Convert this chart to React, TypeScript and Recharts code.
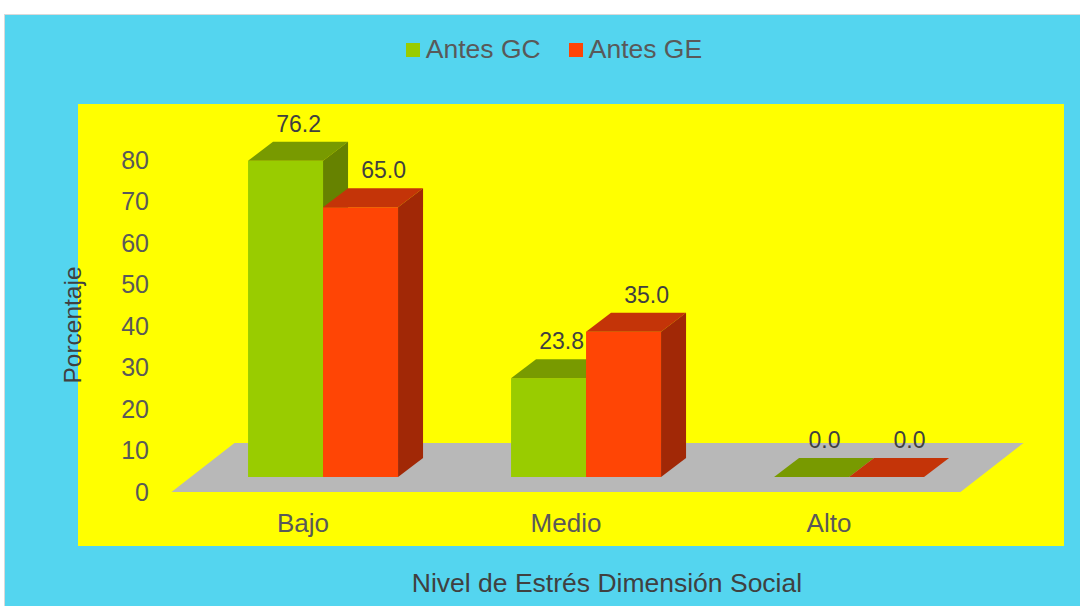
import { BarChart, Bar, XAxis, YAxis, LabelList, ReferenceArea, Legend } from 'recharts';

// Nivel de estrés – dimensión social (antes del programa)
const categories = ['Bajo', 'Medio', 'Alto'];
const antesGC = [76.2, 23.8, 0.0];
const antesGE = [65.0, 35.0, 0.0];
const yTicks = [0, 10, 20, 30, 40, 50, 60, 70, 80];

const data = categories.map((nivel, i) => ({ nivel, gc: antesGC[i], ge: antesGE[i] }));

const FONT = '"Liberation Sans", Arial, sans-serif';
const AXIS_TEXT = '#595959';
const LABEL_TEXT = '#404040';

// profundidad de las barras 3D
const DX = 25;
const DY = 19;

const SERIES = [
  { key: 'gc', name: 'Antes GC', front: '#99CC00', top: '#789A00', side: '#668200', labelShift: 13 },
  { key: 'ge', name: 'Antes GE', front: '#FF4505', top: '#C43408', side: '#A12806', labelShift: 23 },
];

function Bar3D(props: any) {
  const { x, y, width, height, front, top, side } = props;
  if (x == null || y == null) return null;
  const h = Math.max(0, height || 0);
  return (
    <g>
      <rect x={x} y={y} width={width} height={h} fill={front} />
      <polygon
        points={`${x},${y} ${x + DX},${y - DY} ${x + width + DX},${y - DY} ${x + width},${y}`}
        fill={top}
      />
      {h > 0 && (
        <polygon
          points={`${x + width},${y} ${x + width + DX},${y - DY} ${x + width + DX},${y + h - DY} ${x + width},${y + h}`}
          fill={side}
        />
      )}
    </g>
  );
}

function Floor(props: any) {
  const { x, y, width, height } = props;
  const fy = y + height + 15;
  const x1 = x - 20;
  const x2 = x + width - 20;
  return (
    <polygon
      points={`${x1},${fy} ${x2},${fy} ${x2 + 63},${fy - 49} ${x1 + 63},${fy - 49}`}
      fill="#B8B8B8"
    />
  );
}

const YTick = ({ x, y, payload }: any) => (
  <text x={x} y={y + 14.5} textAnchor="end" dominantBaseline="central" fill={AXIS_TEXT} fontSize={25} fontFamily={FONT}>
    {payload.value}
  </text>
);

const XTick = ({ x, y, payload }: any) => (
  <text x={x - 20} y={y} textAnchor="middle" dominantBaseline="central" fill={AXIS_TEXT} fontSize={26} fontFamily={FONT}>
    {payload.value}
  </text>
);

const makeValueLabel = (shift: number) => (p: any) => {
  const { x, y, width, value } = p;
  return (
    <text
      x={x + width / 2 + shift}
      y={y - 37}
      textAnchor="middle"
      dominantBaseline="central"
      fill={LABEL_TEXT}
      fontSize={23}
      fontFamily={FONT}
    >
      {Number(value).toFixed(1)}
    </text>
  );
};

const LegendContent = () => (
  <div style={{ display: 'flex', justifyContent: 'center', alignItems: 'center', fontFamily: FONT, fontSize: 26.5, color: AXIS_TEXT }}>
    {SERIES.map((s, i) => (
      <div key={s.key} style={{ display: 'flex', alignItems: 'center', marginLeft: i ? 28 : 0 }}>
        <span style={{ width: 14, height: 14, background: s.front, marginRight: 6, display: 'inline-block' }} />
        <span>{s.name}</span>
      </div>
    ))}
  </div>
);

export default function App() {
  return (
    <div style={{ position: 'absolute', left: 0, top: 0, width: 1080, height: 606, background: '#fff', overflow: 'hidden' }}>
      <div
        style={{
          position: 'absolute',
          left: 4,
          top: 14,
          width: 1080,
          height: 600,
          background: '#54D5EF',
          border: '1px solid #D9D9D9',
        }}
      />
      <div style={{ position: 'absolute', left: 78, top: 104, width: 986, height: 442, background: '#FFFF00' }} />
      <div style={{ position: 'absolute', left: 0, top: 0 }}>
        <BarChart
          width={1080}
          height={606}
          data={data}
          margin={{ top: 145, right: 99.5, bottom: 0, left: 78 }}
          barCategoryGap="21.5%"
          barGap={0}
        >
          <ReferenceArea y1={0} y2={80} shape={Floor} ifOverflow="visible" />
          <XAxis
            dataKey="nivel"
            height={129}
            axisLine={false}
            tickLine={false}
            tickSize={0}
            tickMargin={46}
            tick={<XTick />}
            label={{
              content: (p: any) => {
                const vb = p.viewBox;
                return (
                  <text
                    x={vb.x + vb.width / 2 + 21}
                    y={vb.y + 106}
                    textAnchor="middle"
                    dominantBaseline="central"
                    fill={LABEL_TEXT}
                    fontSize={26.5}
                    fontFamily={FONT}
                  >
                    Nivel de Estrés Dimensión Social
                  </text>
                );
              },
            }}
          />
          <YAxis
            width={113.5}
            domain={[0, 80]}
            ticks={yTicks}
            axisLine={false}
            tickLine={false}
            tickSize={0}
            tickMargin={42.5}
            tick={<YTick />}
            label={{
              content: () => (
                <text
                  x={72}
                  y={325}
                  transform="rotate(-90 72 325)"
                  textAnchor="middle"
                  dominantBaseline="central"
                  fill={LABEL_TEXT}
                  fontSize={24.5}
                  fontFamily={FONT}
                >
                  Porcentaje
                </text>
              ),
            }}
          />
          <Legend
            layout="horizontal"
            verticalAlign="middle"
            align="center"
            content={<LegendContent />}
            wrapperStyle={{ top: 34, left: 14, width: 1080, height: 36 }}
          />
          {SERIES.map((s) => (
            <Bar
              key={s.key}
              dataKey={s.key}
              name={s.name}
              fill={s.front}
              isAnimationActive={false}
              shape={(p: any) => <Bar3D {...p} front={s.front} top={s.top} side={s.side} />}
            >
              <LabelList dataKey={s.key} content={makeValueLabel(s.labelShift)} />
            </Bar>
          ))}
        </BarChart>
      </div>
    </div>
  );
}
